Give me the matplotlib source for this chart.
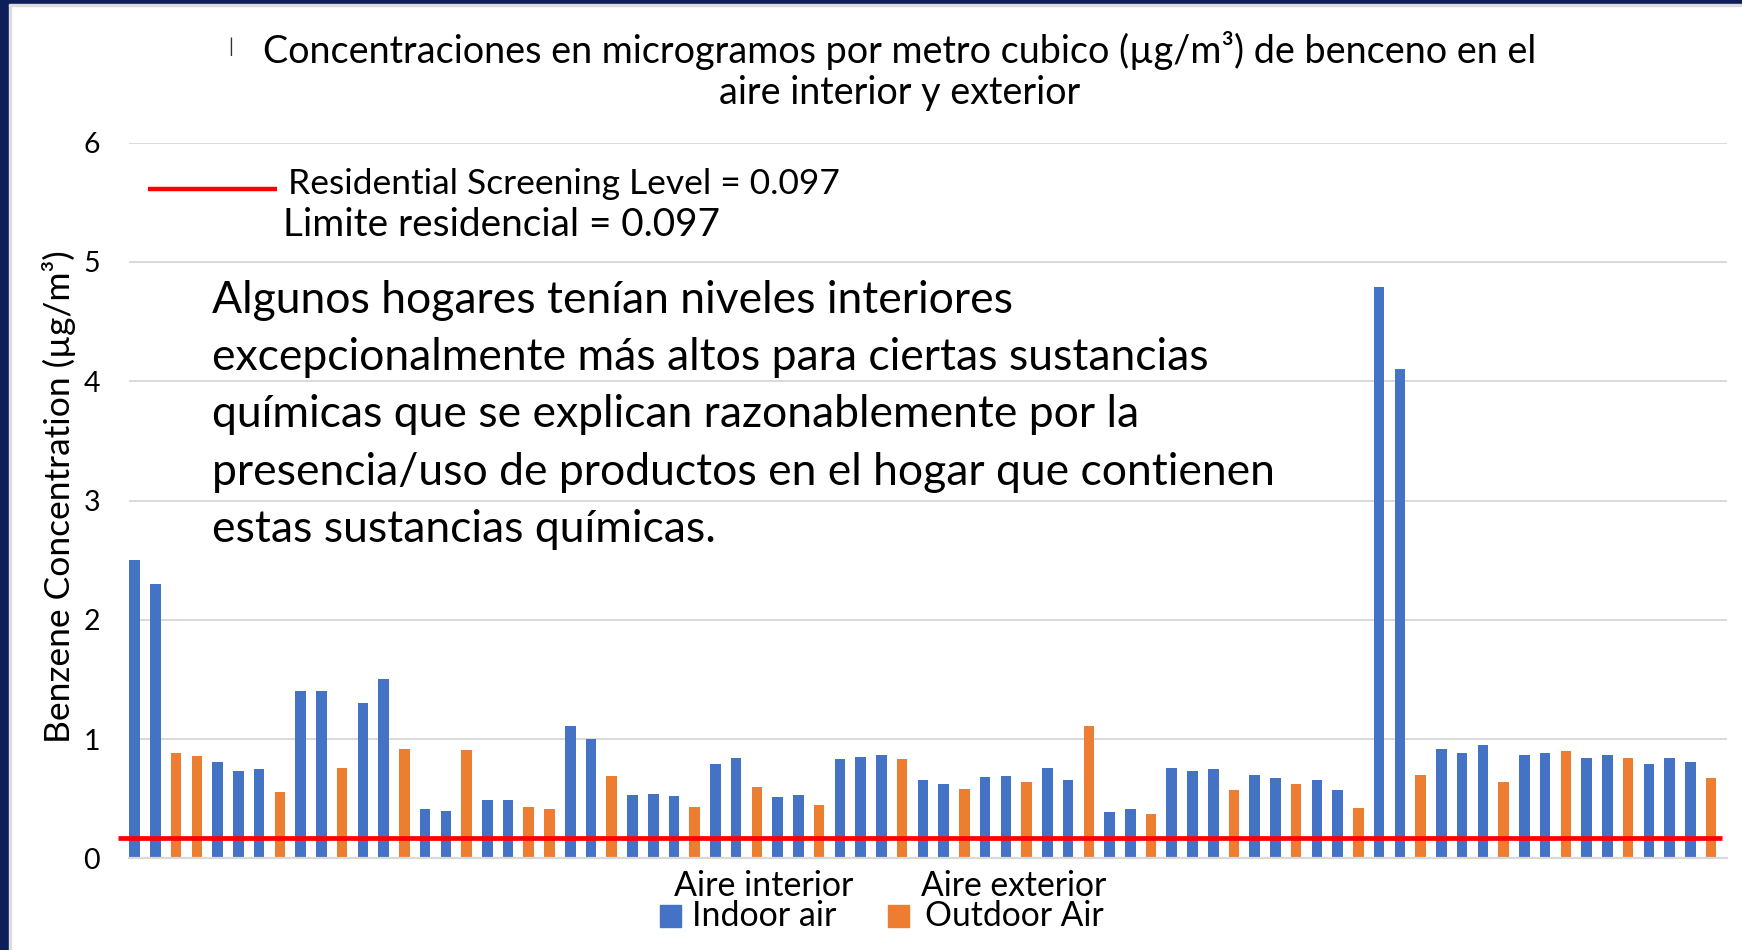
import matplotlib
matplotlib.use("Agg")
import matplotlib.pyplot as plt
from matplotlib.patches import Rectangle
from matplotlib.lines import Line2D
import numpy as np

plt.rcParams['font.family'] = ['Lato', 'DejaVu Sans']

# ---------------- data ----------------
# series of each bar in order: I = indoor air, O = outdoor air
bar_series = list("IIOOIIIOIIOIIOIIOIIOOIIOIIIOIIOIIOIIIOIIOIIOIIOIIOIIIOIIOIIOIIOIIIOIIOIIOIIIO")
bar_values = [2.50, 2.30, 0.88, 0.86, 0.81, 0.73, 0.75, 0.56, 1.40, 1.40,
              0.76, 1.30, 1.50, 0.92, 0.41, 0.40, 0.91, 0.49, 0.49, 0.43,
              0.41, 1.11, 1.00, 0.69, 0.53, 0.54, 0.52, 0.43, 0.79, 0.84,
              0.60, 0.51, 0.53, 0.45, 0.83, 0.85, 0.87, 0.83, 0.66, 0.62,
              0.58, 0.68, 0.69, 0.64, 0.76, 0.66, 1.11, 0.39, 0.41, 0.375,
              0.76, 0.73, 0.75, 0.57, 0.70, 0.67, 0.62, 0.66, 0.57, 0.42,
              4.79, 4.10, 0.70, 0.92, 0.88, 0.95, 0.64, 0.87, 0.88, 0.90,
              0.84, 0.87, 0.84, 0.79, 0.84, 0.81, 0.67]
indoor_air = [v if s == "I" else np.nan for s, v in zip(bar_series, bar_values)]
outdoor_air = [v if s == "O" else np.nan for s, v in zip(bar_series, bar_values)]
screening_line_value = 0.17   # position of the drawn red line
y_ticks = [0, 1, 2, 3, 4, 5, 6]

title_lines = ["Concentraciones en microgramos por metro cubico (µg/m³) de benceno en el",
               "aire interior y exterior"]
note_lines = ["Algunos hogares tenían niveles interiores",
              "excepcionalmente más altos para ciertas sustancias",
              "químicas que se explican razonablemente por la",
              "presencia/uso de productos en el hogar que contienen",
              "estas sustancias químicas."]
legend_labels = ["Aire interior\nIndoor air", "Aire exterior\nOutdoor Air"]

BLUE = "#4472C4"
ORANGE = "#ED7D31"
RED = "#FF0000"
GRID = "#D9D9D9"
NAVY = "#0E1E5B"

W, H = 1742, 950
fig = plt.figure(figsize=(W / 100, H / 100), dpi=100)
fig.patch.set_facecolor("white")

# frame strips (slide border)
fig.patches.append(Rectangle((0, 0), 8.5 / W, 1, transform=fig.transFigure, color=NAVY, zorder=0))
fig.patches.append(Rectangle((8.5 / W, 0), 2 / W, 1 - 3.5 / H, transform=fig.transFigure, color="#DDDDDD", zorder=0))
fig.patches.append(Rectangle((0, 1 - 3.5 / H), 1, 3.5 / H, transform=fig.transFigure, color=NAVY, zorder=0))
fig.patches.append(Rectangle((8.5 / W, 1 - 5.5 / H), 1, 2 / H, transform=fig.transFigure, color="#DDDDDD", zorder=0))

ax_l, ax_r, ax_t, ax_b = 129.3, 1727, 142.7, 858.3
ax = fig.add_axes([ax_l / W, 1 - ax_b / H, (ax_r - ax_l) / W, (ax_b - ax_t) / H])
ax.set_facecolor("none")

x = np.arange(len(bar_values))
ax.bar(x, indoor_air, width=0.51, color=BLUE, zorder=2)
ax.bar(x, outdoor_air, width=0.51, color=ORANGE, zorder=2)
ax.plot([-0.785, len(bar_values) - 1 + 0.55], [screening_line_value] * 2, color=RED,
        lw=3.4, solid_capstyle="butt", clip_on=False, zorder=4)

ax.set_xlim(-0.26, len(bar_values) - 1 + 0.77)
ax.set_ylim(0, 6)
ax.set_yticks(y_ticks)
ax.set_xticks([])
ax.yaxis.grid(True, color=GRID, lw=1.4, zorder=0)
ax.set_axisbelow(True)
for s in ["top", "right", "left"]:
    ax.spines[s].set_visible(False)
ax.spines["bottom"].set_color(GRID)
ax.spines["bottom"].set_linewidth(1.6)
ax.tick_params(axis="y", length=0, pad=21, labelsize=20.5)

fig.canvas.draw()
r = fig.canvas.get_renderer()


def fit(xp, yp, s, width_px, ha="left", va="baseline", size=None, **kw):
    t = fig.text(xp / W, 1 - yp / H, s, fontsize=size if size else 20, ha=ha, va=va, **kw)
    if size is None:
        w = t.get_window_extent(renderer=r).width
        t.set_fontsize(20 * width_px / w)
    return t


# title
t1 = fit(900, 50, title_lines[0], 1278, ha="center", va="center")
fit(900, 93, title_lines[1], None, ha="center", va="center", size=t1.get_fontsize())
fig.text(231 / W, 1 - 47 / H, "|", fontsize=14, color="#333333", ha="center", va="center")

# screening level legend
fig.lines.append(Line2D([148 / W, 277 / W], [1 - 189 / H] * 2, transform=fig.transFigure,
                        color=RED, lw=3.2, solid_capstyle="butt"))
fit(288, 194, "Residential Screening Level = 0.097", 554)
fit(283, 236, "Limite residencial = 0.097", 438)

# note
baselines = [312.7, 370.0, 427.3, 484.6, 541.9]
tn = fit(212, baselines[3], note_lines[3], 1066)
for i, line in enumerate(note_lines):
    if i != 3:
        fit(212, baselines[i], line, None, size=tn.get_fontsize())

# y label
yl = fig.text(59 / W, 1 - 497 / H, "Benzene Concentration (µg/m³)", rotation=90,
              ha="center", va="center", fontsize=20)
h = yl.get_window_extent(renderer=r).height
yl.set_fontsize(20 * 493 / h)


# bottom legend: two-line labels, centred, baselines at 897 and 926 px
def legend_label(xc, label, width_px, base1=897, base2=926):
    fs = 20
    probe = fig.text(0, 0.5, label.split("\n")[0], fontsize=fs, va="baseline")
    bb = probe.get_window_extent(renderer=r)
    fs = fs * width_px / bb.width
    probe.set_fontsize(fs)
    bb = probe.get_window_extent(renderer=r)
    descent = 0.5 * H - bb.y0
    h1 = bb.height
    probe.remove()
    t = fig.text(xc / W, 0.5, label, fontsize=fs, ha="center", va="bottom",
                 multialignment="center", linespacing=1.0)
    gap1 = t.get_window_extent(renderer=r).height - h1
    t.set_linespacing((base2 - base1) / gap1)
    t.set_position((xc / W, (H - base2 - descent) / H))
    return t


legend_label(764, legend_labels[0], 181)
legend_label(1014, legend_labels[1], 186)
fig.patches.append(Rectangle((660 / W, 1 - 927 / H), 21 / W, 22 / H, transform=fig.transFigure, color=BLUE))
fig.patches.append(Rectangle((887.5 / W, 1 - 927 / H), 21 / W, 22 / H, transform=fig.transFigure, color=ORANGE))

fig.savefig("out.png", dpi=100, facecolor="white")
